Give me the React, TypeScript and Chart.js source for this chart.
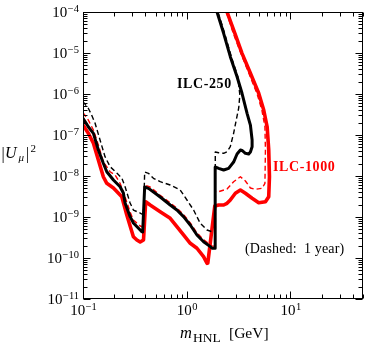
import React, { useEffect, useRef } from 'react';
import { Chart, registerables } from 'chart.js';

Chart.register(...registerables);

const SERIF = "'Liberation Serif', 'DejaVu Serif', serif";

// ILC-250, full run (solid black)
const bsMass = [0.1, 0.1125, 0.126, 0.1406, 0.157, 0.1695, 0.1965, 0.2278, 0.2449, 0.2545,
  0.2845, 0.306, 0.3557, 0.369, 0.376, 0.393, 0.4276, 0.4966, 0.575, 0.693,
  0.8035, 0.931, 1.081, 1.2545, 1.453, 1.687, 1.752, 1.88, 1.88, 2.03,
  2.268, 2.535, 2.83, 3.055, 3.29, 3.41, 3.675, 3.955, 4.108, 4.266,
  4.266, 4.108, 3.815, 3.41, 3.055, 2.63, 2.268, 1.958];
const bsU2 = [2.55e-7, 1.59e-7, 1.1e-7, 4.31e-8, 2.04e-8, 1.27e-8, 7.98e-9, 5.48e-9, 3.85e-9, 2.19e-9,
  1.02e-9, 7.14e-10, 4.82e-10, 4.38e-10, 4.3e-10, 5.4e-9, 5.0e-9, 3.79e-9, 2.86e-9, 1.96e-9,
  1.48e-9, 1.02e-9, 6.38e-10, 3.64e-10, 2.5e-10, 1.89e-10, 1.73e-10, 1.73e-10, 1.66e-8, 1.54e-8,
  1.4e-8, 1.54e-8, 2.19e-8, 3.44e-8, 4.31e-8, 4.2e-8, 3.58e-8, 3.44e-8, 3.85e-8, 5.19e-8,
  7.55e-8, 1.75e-7, 3.38e-7, 1.04e-6, 2.64e-6, 8.13e-6, 3.02e-5, 1e-4];

// ILC-250, 1 year (dashed black)
const bdMass = [0.1, 0.1125, 0.121, 0.1306, 0.146, 0.163, 0.1825, 0.2117, 0.2366, 0.2545,
  0.2845, 0.306, 0.3557, 0.383, 0.393, 0.4276, 0.4775, 0.5546, 0.693, 0.865,
  1.005, 1.164, 1.35, 1.567, 1.752, 1.884, 1.884, 2.03, 2.268, 2.445,
  2.63, 2.83, 3.0, 3.17, 3.25, 3.11, 2.69, 2.32, 2.0];
const bdU2 = [6.49e-7, 4.48e-7, 3.08e-7, 1.96e-7, 7.55e-8, 2.96e-8, 1.69e-8, 1.18e-8, 8.94e-9, 5.48e-9,
  2.19e-9, 1.48e-9, 1.25e-9, 1.12e-9, 1.25e-8, 1.16e-8, 8.8e-9, 7.26e-9, 6.03e-9, 4.56e-9,
  2.6e-9, 1.48e-9, 7.0e-10, 4.82e-10, 4.38e-10, 4.3e-10, 3.85e-8, 3.7e-8, 3.58e-8, 3.92e-8,
  5.19e-8, 1.1e-7, 2.32e-7, 4.56e-7, 9.46e-7, 2.64e-6, 8.13e-6, 3.02e-5, 1e-4];

// ILC-1000, full run (solid red)
const rsMass = [0.1, 0.1125, 0.126, 0.1406, 0.157, 0.1695, 0.1965, 0.2366, 0.2643, 0.306,
  0.3305, 0.3557, 0.383, 0.402, 0.4436, 0.5546, 0.693, 0.8035, 0.931, 1.081,
  1.2545, 1.453, 1.567, 1.596, 1.864, 2.03, 2.268, 2.445, 2.63, 2.942,
  3.29, 3.675, 4.266, 4.94, 5.735, 6.17, 6.27, 6.17, 5.955, 5.52,
  4.94, 4.108, 3.41, 2.91, 2.445];
const rsU2 = [1.75e-7, 1.1e-7, 6.28e-8, 2.46e-8, 9.6e-9, 6.64e-9, 5.1e-9, 3.13e-9, 1.12e-9, 3.31e-10,
  2.75e-10, 2.45e-10, 2.75e-10, 2.36e-9, 1.96e-9, 1.35e-9, 9.3e-10, 5.8e-10, 3.64e-10, 2.28e-10,
  1.73e-10, 1.08e-10, 7.43e-11, 7.55e-11, 1.85e-9, 1.96e-9, 1.96e-9, 2.16e-9, 2.6e-9, 3.79e-9,
  4.56e-9, 3.79e-9, 2.86e-9, 2.23e-9, 2.36e-9, 3.13e-9, 9.6e-9, 4.31e-8, 1.59e-7, 4.07e-7,
  1.04e-6, 3.2e-6, 9.8e-6, 3.02e-5, 1e-4];

// ILC-1000, 1 year (dashed red)
const rdMass = [0.1, 0.1125, 0.126, 0.1406, 0.157, 0.1825, 0.2037, 0.2278, 0.2545, 0.2845,
  0.306, 0.3557, 0.38, 0.393, 0.4436, 0.5546, 0.693, 0.8035, 0.931, 1.081,
  1.2545, 1.453, 1.687, 1.752, 1.884, 1.884, 2.03, 2.445, 2.83, 3.29,
  3.675, 4.108, 4.59, 5.33, 5.67, 5.735, 5.67, 5.30, 4.745, 3.97,
  3.325, 2.81, 2.41];
const rdU2 = [3.5e-7, 2.32e-7, 1.32e-7, 5.7e-8, 2.23e-8, 1.27e-8, 1.06e-8, 6.64e-9, 3.08e-9, 1.32e-9,
  8.45e-10, 6.03e-10, 5.7e-10, 6.0e-9, 5.4e-9, 3.4e-9, 2.2e-9, 1.65e-9, 1.15e-9, 7.2e-10,
  4.1e-10, 2.8e-10, 2.1e-10, 1.95e-10, 1.95e-10, 4.14e-9, 4.14e-9, 4.82e-9, 7.26e-9, 9.6e-9,
  7.55e-9, 5.1e-9, 4.74e-9, 5.01e-9, 6.64e-9, 4.31e-8, 1.59e-7, 4.07e-7, 1.04e-6, 3.2e-6,
  9.8e-6, 3.02e-5, 1e-4];

const xTickExps = [-1, 0, 1];
const yTickExps = [-11, -10, -9, -8, -7, -6, -5, -4];
const minorMultipliers = [2, 3, 4, 5, 6, 7, 8, 9];

const X_MIN = 0.1;
const X_MAX = 50;
const Y_MIN = 1e-11;
const Y_MAX = 1e-4;

const toPoints = (m: number[], u: number[]) => m.map((v, i) => ({ x: v, y: u[i] }));

const expText = (e: number) => (e < 0 ? '\u2212' + Math.abs(e) : String(e));

function drawPow(ctx: CanvasRenderingContext2D, e: number, x: number, baseline: number, mode: 'right' | 'center') {
  ctx.font = `15px ${SERIF}`;
  const w1 = ctx.measureText('10').width;
  ctx.font = `10.5px ${SERIF}`;
  const s = expText(e);
  const w2 = ctx.measureText(s).width + 0.5;
  const total = w1 + w2;
  const start = mode === 'right' ? x - total : x - total / 2;
  ctx.textAlign = 'left';
  ctx.textBaseline = 'alphabetic';
  ctx.font = `15px ${SERIF}`;
  ctx.fillText('10', start, baseline);
  ctx.font = `10.5px ${SERIF}`;
  ctx.fillText(s, start + w1 + 0.5, baseline - 5.5);
}

const framePlugin = {
  id: 'frameTicks',
  afterDatasetsDraw(chart: any) {
    const { ctx, chartArea: a, scales } = chart;
    const xs = scales.x;
    const ys = scales.y;
    const L = Math.round(a.left) + 0.5;
    const R = Math.round(a.right) - 0.5;
    const T = Math.round(a.top) + 0.5;
    const B = Math.round(a.bottom) - 0.5;
    ctx.save();
    ctx.strokeStyle = '#000';
    ctx.lineWidth = 1;
    ctx.strokeRect(L, T, R - L, B - T);
    ctx.beginPath();
    yTickExps.forEach((e) => {
      const vals = [{ v: Math.pow(10, e), len: 7 }];
      minorMultipliers.forEach((k) => vals.push({ v: k * Math.pow(10, e), len: 4 }));
      vals.forEach(({ v, len }) => {
        if (v < Y_MIN * 0.999 || v > Y_MAX * 1.001) return;
        const py = Math.round(ys.getPixelForValue(v)) + 0.5;
        ctx.moveTo(L, py); ctx.lineTo(L + len, py);
        ctx.moveTo(R, py); ctx.lineTo(R - len, py);
      });
    });
    xTickExps.forEach((e) => {
      const vals = [{ v: Math.pow(10, e), len: 7 }];
      minorMultipliers.forEach((k) => vals.push({ v: k * Math.pow(10, e), len: 4 }));
      vals.forEach(({ v, len }) => {
        if (v < X_MIN * 0.999 || v > X_MAX * 1.001) return;
        const px = Math.round(xs.getPixelForValue(v)) + 0.5;
        ctx.moveTo(px, B); ctx.lineTo(px, B - len);
        ctx.moveTo(px, T); ctx.lineTo(px, T + len);
      });
    });
    ctx.stroke();
    ctx.restore();
  },
  afterDraw(chart: any) {
    const { ctx, scales } = chart;
    const xs = scales.x;
    const ys = scales.y;
    ctx.save();
    ctx.fillStyle = '#000';
    yTickExps.forEach((e) => {
      const py = ys.getPixelForValue(Math.pow(10, e));
      drawPow(ctx, e, 79, py + 5, 'right');
    });
    xTickExps.forEach((e) => {
      const px = xs.getPixelForValue(Math.pow(10, e));
      drawPow(ctx, e, px + 0.5, 315, 'center');
    });

    // y-axis title |U_mu|^2
    ctx.textAlign = 'left';
    ctx.textBaseline = 'alphabetic';
    ctx.font = `16px ${SERIF}`;
    ctx.fillText('|', 1.5, 159);
    ctx.font = `italic 16px ${SERIF}`;
    ctx.fillText('U', 5, 158);
    ctx.font = `italic 11px ${SERIF}`;
    ctx.fillText('\u03bc', 18.5, 161);
    ctx.font = `16px ${SERIF}`;
    ctx.fillText('|', 26, 159);
    ctx.font = `11px ${SERIF}`;
    ctx.fillText('2', 30.5, 152);

    // x-axis title m_HNL [GeV]
    ctx.font = `italic 16.5px ${SERIF}`;
    ctx.fillText('m', 180, 338);
    ctx.font = `13.5px ${SERIF}`;
    ctx.fillText('HNL', 193, 341.5);
    ctx.font = `15.5px ${SERIF}`;
    ctx.fillText('[GeV]', 229, 338);

    // annotations
    (ctx as any).letterSpacing = '0.6px';
    ctx.font = `bold 14px ${SERIF}`;
    ctx.fillStyle = '#000';
    ctx.fillText('ILC-250', 177, 88);
    ctx.fillStyle = '#ff0000';
    ctx.fillText('ILC-1000', 273, 171);
    (ctx as any).letterSpacing = '0.15px';
    ctx.fillStyle = '#000';
    ctx.font = `14px ${SERIF}`;
    ctx.fillText('(Dashed:  1 year)', 245, 253);
    (ctx as any).letterSpacing = '0px';
    ctx.restore();
  },
};

export default function App() {
  const ref = useRef<HTMLCanvasElement>(null);
  useEffect(() => {
    if (!ref.current) return;
    const common = { showLine: true, pointRadius: 0, fill: false, tension: 0, borderJoinStyle: 'round' as const, clip: 0 };
    const chart = new Chart(ref.current, {
      type: 'scatter',
      data: {
        datasets: [
          { ...common, label: 'ILC-1000', data: toPoints(rsMass, rsU2), borderColor: '#ff0000', borderWidth: 3.6, order: 4 },
          { ...common, label: 'ILC-1000 (1 year)', data: toPoints(rdMass, rdU2), borderColor: '#ff0000', borderWidth: 1.4, borderDash: [5, 3], order: 3 },
          { ...common, label: 'ILC-250', data: toPoints(bsMass, bsU2), borderColor: '#000000', borderWidth: 3, order: 2 },
          { ...common, label: 'ILC-250 (1 year)', data: toPoints(bdMass, bdU2), borderColor: '#000000', borderWidth: 1.4, borderDash: [5, 3], order: 1 },
        ],
      },
      options: {
        responsive: false,
        animation: false,
        layout: { padding: { left: 83, right: 11, top: 12, bottom: 47 } },
        scales: {
          x: { type: 'logarithmic', min: X_MIN, max: X_MAX, display: false },
          y: { type: 'logarithmic', min: Y_MIN, max: Y_MAX, display: false },
        },
        plugins: { legend: { display: false }, tooltip: { enabled: false } },
      },
      plugins: [framePlugin],
    } as any);
    return () => chart.destroy();
  }, []);
  return (
    <div style={{ position: 'absolute', left: 0, top: 0, width: 374, height: 346, background: '#fff' }}>
      <canvas ref={ref} width={374} height={346} style={{ display: 'block' }} />
    </div>
  );
}
